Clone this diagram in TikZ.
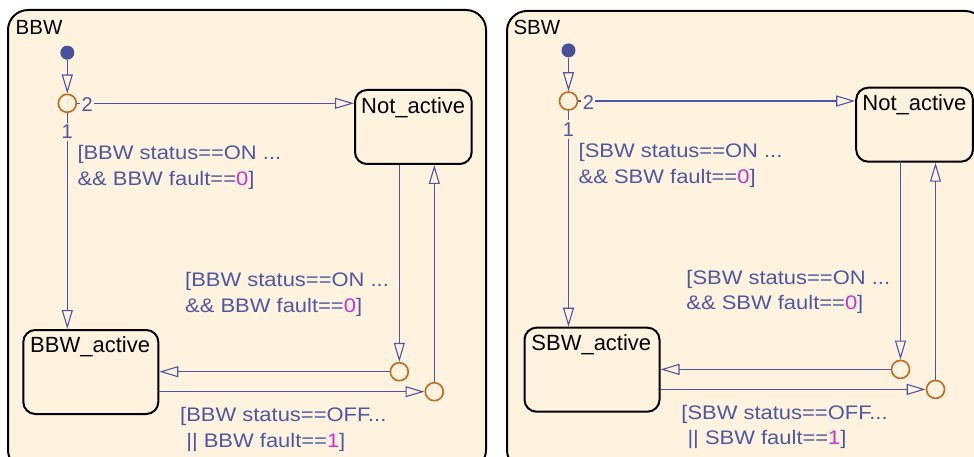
\documentclass[tikz,border=0pt]{standalone}
\usepackage{fontspec}
\setmainfont{Liberation Sans}
\usetikzlibrary{arrows.meta}

\definecolor{chartbg}{RGB}{255,243,224}
\definecolor{transblue}{RGB}{76,86,166}
\definecolor{labelblue}{RGB}{78,88,160}
\definecolor{junctionorange}{RGB}{196,106,32}
\definecolor{constmagenta}{RGB}{204,51,204}
\definecolor{defaultdot}{RGB}{72,80,156}

\tikzset{
  chart/.style={draw=black, line width=2pt, fill=chartbg, rounded corners=20pt},
  statebox/.style={draw=black, line width=2pt, fill=chartbg, rounded corners=12pt, inner sep=0pt},
  junction/.style={circle, draw=junctionorange, line width=1.6pt, fill=chartbg, minimum size=18pt, inner sep=0pt},
  initdot/.style={circle, fill=defaultdot, minimum size=14pt, inner sep=0pt},
  trans/.style={draw=transblue, line width=1.1pt, -{Triangle[open, length=19pt, width=11pt]}},
  statename/.style={anchor=base west, inner sep=0pt, text=black, font=\fontsize{22}{26}\selectfont},
  charttitle/.style={anchor=base west, inner sep=0pt, text=black, font=\fontsize{20.5}{24}\selectfont},
  guard/.style={anchor=base west, inner sep=0pt, text=labelblue},
  order/.style={fill=chartbg, text=labelblue, inner xsep=1.5pt, inner ysep=2.5pt, font=\fontsize{20}{22}\selectfont},
}

% two-line transition guard, set slightly wide
\newcommand\guardtext[2]{\scalebox{1.12}[1]{\fontsize{19.6}{25.5}\selectfont
  \begin{tabular}[t]{@{}l@{}}#1\\#2\end{tabular}}}

% states, junctions and transitions of one chart (#1: name prefix, #2: signal name)
\newcommand\chartbody[2]{
  \node[initdot] (#1init) at (67.3,52.7) {};
  \node[junction] (#1jA) at (67.3,103.3) {};
  \node[statebox, minimum width=116.7pt, minimum height=74pt] (#1na) at (413.35,127) {};
  \node[statename] (#1naname) at (361,113.3) {Not\_active};
  \node[statebox, minimum width=135pt, minimum height=84pt] (#1act) at (90.8,372) {};
  \node[statename] (#1actname) at (30,352.3) {#2\_active};
  \node[junction] (#1jB) at (399.3,371.7) {};
  \node[junction] (#1jC) at (434.3,391.7) {};

  \draw[trans] (#1init) -- (#1jA);
  \draw[trans] (#1jA) -- (#1jA -| #1na.west);
  \draw[trans] (#1jA) -- (#1jA |- #1act.north);
  \draw[trans] (#1jB |- #1na.south) -- (#1jB);
  \draw[trans] (#1jC) -- (#1jC |- #1na.south);
  \draw[trans] (#1jB) -- (#1jB -| #1act.east);
  \draw[trans] (#1jC -| #1act.east) -- (#1jC);

  \node[order] (#1ordB) at (87.2,104.8) {2};
  \node[order] (#1ordA) at (67.3,132) {1};

  \node[guard] (#1guardA) at (77.3,160)
    {\guardtext{[#2 status==ON ...}{\&\& #2 fault==\textcolor{constmagenta}{0}]}};
  \node[guard] (#1guardB) at (185,286.7)
    {\guardtext{[#2 status==ON ...}{\&\& #2 fault==\textcolor{constmagenta}{0}]}};
  \node[guard] (#1guardC) at (180,421.7)
    {\guardtext{[#2 status==OFF...}{\ || #2 fault==\textcolor{constmagenta}{1}]}};
}

\begin{document}
\begin{tikzpicture}[x=1pt, y=-1pt]
  \fill[white] (0,0) rectangle (974,457);
  \useasboundingbox (0,0) rectangle (974,457);

  % BBW chart
  \draw[chart] (8,10) rectangle (486,470);
  \node[charttitle] (bbwtitle) at (15.5,34.3) {BBW};
  \chartbody{bbw}{BBW}

  % SBW chart
  \draw[chart] (507,11) rectangle (985,470);
  \node[charttitle] (sbwtitle) at (513.3,35) {SBW};
  \begin{scope}[shift={(501.2,-2.3)}]
    \chartbody{sbw}{SBW}
  \end{scope}
\end{tikzpicture}
\end{document}
